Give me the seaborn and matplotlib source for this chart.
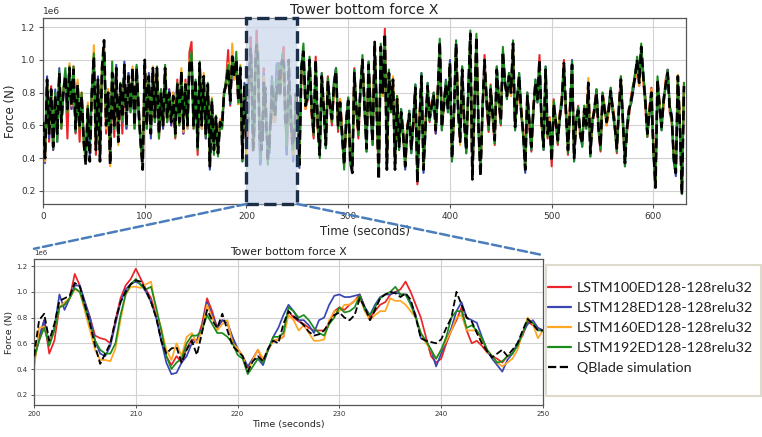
import numpy as np
import pandas as pd
import matplotlib
matplotlib.use("Agg")
import matplotlib.pyplot as plt
import seaborn as sns
from matplotlib.patches import ConnectionPatch, Rectangle
from matplotlib.lines import Line2D

# ---------------- data (force in MN, scaled to N when plotted) ----------------
series_names = ["LSTM100ED128-128relu32", "LSTM128ED128-128relu32",
                "LSTM160ED128-128relu32", "LSTM192ED128-128relu32",
                "QBlade simulation"]
series_colors = ["#ec2328", "#3a46b2", "#ffa624", "#1c8c1c", "#000000"]

# zoom window 200-250 s, 0.5 s step
t_fine = np.arange(200.0, 250.01, 0.5)
red_fine = [0.50,0.62,0.78,0.52,0.62,0.88,0.90,0.95,1.14,1.05,
            0.92,0.80,0.66,0.64,0.63,0.60,0.78,0.95,1.05,1.10,
            1.18,1.10,1.02,0.95,0.82,0.62,0.50,0.43,0.50,0.45,
            0.56,0.63,0.62,0.75,0.95,0.85,0.72,0.78,0.76,0.62,
            0.55,0.50,0.40,0.48,0.55,0.46,0.55,0.62,0.63,0.65,
            0.85,0.80,0.77,0.75,0.72,0.70,0.70,0.70,0.76,0.85,
            0.88,0.86,0.90,0.93,0.98,0.88,0.80,0.85,0.90,0.92,
            0.98,1.00,1.02,1.08,1.00,0.90,0.80,0.65,0.50,0.45,
            0.48,0.60,0.70,0.78,0.88,0.70,0.60,0.62,0.58,0.53,
            0.50,0.48,0.45,0.50,0.52,0.60,0.66,0.77,0.74,0.72,
            0.70]
blue_fine = [0.45,0.65,0.78,0.60,0.72,0.98,0.86,0.95,1.05,1.05,
             0.92,0.80,0.62,0.52,0.50,0.58,0.75,0.92,1.02,1.06,
             1.08,1.06,1.00,0.92,0.80,0.62,0.45,0.36,0.37,0.45,
             0.50,0.60,0.62,0.72,0.92,0.82,0.72,0.78,0.76,0.65,
             0.56,0.50,0.42,0.48,0.48,0.43,0.55,0.65,0.72,0.82,
             0.90,0.85,0.78,0.78,0.74,0.68,0.78,0.80,0.90,0.97,
             0.98,0.96,0.96,0.97,0.98,0.88,0.82,0.90,0.96,0.98,
             0.98,1.00,0.98,0.98,0.92,0.82,0.64,0.62,0.55,0.42,
             0.52,0.62,0.72,0.85,0.92,0.80,0.78,0.76,0.65,0.55,
             0.48,0.43,0.38,0.47,0.52,0.60,0.68,0.75,0.78,0.72,
             0.70]
orange_fine = [0.40,0.72,0.73,0.60,0.70,0.88,0.92,0.95,1.02,1.00,
               0.85,0.70,0.55,0.47,0.47,0.46,0.56,0.78,0.98,1.04,
               1.04,1.03,1.06,1.08,0.85,0.72,0.55,0.47,0.60,0.50,
               0.65,0.68,0.60,0.70,0.90,0.80,0.70,0.75,0.78,0.60,
               0.56,0.50,0.38,0.47,0.55,0.48,0.55,0.62,0.63,0.65,
               0.82,0.78,0.70,0.74,0.68,0.62,0.62,0.63,0.78,0.85,
               0.85,0.90,0.90,0.93,0.96,0.85,0.78,0.82,0.85,0.85,
               0.95,0.93,0.93,0.90,0.85,0.80,0.68,0.60,0.55,0.48,
               0.55,0.62,0.70,0.80,0.82,0.70,0.70,0.70,0.62,0.55,
               0.50,0.45,0.42,0.45,0.48,0.55,0.68,0.80,0.75,0.64,
               0.70]
green_fine = [0.48,0.62,0.72,0.58,0.70,0.88,0.90,0.95,1.03,1.00,
              0.88,0.75,0.62,0.55,0.52,0.52,0.60,0.82,0.98,1.06,
              1.10,1.05,1.02,1.04,0.88,0.70,0.50,0.40,0.45,0.48,
              0.60,0.66,0.66,0.70,0.82,0.75,0.68,0.68,0.65,0.60,
              0.51,0.48,0.36,0.42,0.48,0.45,0.55,0.65,0.65,0.68,
              0.88,0.85,0.80,0.82,0.78,0.72,0.68,0.66,0.75,0.80,
              0.88,0.84,0.85,0.88,0.97,0.86,0.82,0.88,0.95,0.98,
              1.00,1.04,0.98,0.98,0.90,0.80,0.68,0.62,0.55,0.48,
              0.55,0.65,0.80,0.85,0.85,0.72,0.74,0.70,0.64,0.55,
              0.50,0.45,0.46,0.50,0.52,0.58,0.68,0.78,0.76,0.70,
              0.70]
qblade_fine = [0.50,0.78,0.83,0.62,0.75,0.93,0.95,0.97,1.07,1.04,
               0.90,0.75,0.58,0.44,0.52,0.60,0.78,0.92,1.00,1.06,
               1.09,1.08,1.01,0.92,0.80,0.62,0.52,0.56,0.57,0.45,
               0.55,0.62,0.51,0.68,0.86,0.78,0.72,0.83,0.70,0.58,
               0.54,0.50,0.38,0.46,0.50,0.46,0.56,0.62,0.60,0.75,
               0.85,0.81,0.78,0.74,0.69,0.66,0.67,0.70,0.76,0.82,
               0.84,0.80,0.78,0.82,0.95,0.88,0.78,0.86,0.95,0.98,
               1.00,0.99,0.96,0.99,0.94,0.80,0.64,0.62,0.61,0.60,
               0.63,0.72,0.80,1.00,0.90,0.80,0.77,0.68,0.60,0.54,
               0.49,0.52,0.55,0.50,0.55,0.60,0.70,0.79,0.75,0.70,
               0.70]

# full record, 0-198 s (2 s step)
t_a = np.arange(0.0, 199.0, 2.0)
red_a = [0.60,0.42,0.85,0.50,0.84,0.45,0.80,0.52,0.90,0.58,
         0.82,0.88,0.52,0.93,0.70,0.96,0.55,0.82,0.50,0.80,
         0.52,0.40,0.72,0.50,0.78,0.98,0.42,0.85,0.45,0.92,
         1.05,0.55,0.82,0.40,0.90,0.53,0.93,0.52,0.82,0.55,
         0.95,0.58,0.92,0.68,0.93,0.62,0.93,0.66,0.52,0.34,
         0.98,0.62,0.88,0.58,0.92,0.62,0.93,0.52,0.82,0.58,
         0.92,0.62,0.82,0.60,0.80,0.52,0.88,0.60,0.90,0.55,
         0.88,0.62,1.05,1.11,0.58,0.85,0.42,0.96,0.62,0.88,
         0.52,0.82,0.38,0.72,0.48,0.62,0.45,0.60,0.62,0.78,
         0.88,1.06,0.72,1.00,0.92,0.98,0.78,0.92,0.42,0.82]
blue_a = [0.60,0.37,0.90,0.52,0.80,0.45,0.82,0.50,0.95,0.60,
          0.78,0.92,0.72,0.96,0.70,0.92,0.56,0.86,0.62,0.76,
          0.52,0.38,0.68,0.42,0.82,0.95,0.48,0.90,0.40,0.92,
          1.08,0.62,0.78,0.40,0.90,0.58,0.97,0.52,0.83,0.62,
          0.99,0.58,0.92,0.72,0.92,0.58,0.96,0.72,0.48,0.35,
          0.97,0.58,0.92,0.52,0.93,0.62,0.92,0.56,0.82,0.58,
          0.93,0.62,0.82,0.60,0.80,0.57,0.84,0.64,0.92,0.55,
          0.86,0.58,0.96,1.02,0.62,0.86,0.46,0.96,0.58,0.88,
          0.52,0.84,0.33,0.73,0.46,0.64,0.44,0.60,0.58,0.82,
          0.83,0.96,0.73,1.00,0.88,0.98,0.73,0.93,0.38,0.86]
orange_a = [0.58,0.38,0.86,0.55,0.78,0.48,0.76,0.56,0.90,0.60,
            0.82,0.88,0.68,0.98,0.72,0.92,0.60,0.88,0.58,0.80,
            0.48,0.38,0.74,0.56,0.78,1.09,0.46,0.86,0.40,0.98,
            1.08,0.58,0.82,0.35,0.93,0.62,0.93,0.48,0.86,0.63,
            0.95,0.62,0.88,0.72,0.96,0.62,0.93,0.68,0.50,0.35,
            1.00,0.60,0.88,0.55,0.96,0.66,0.94,0.57,0.78,0.62,
            0.96,0.63,0.78,0.64,0.80,0.57,0.83,0.62,0.95,0.56,
            0.86,0.58,1.00,1.02,0.62,0.86,0.48,0.96,0.58,0.92,
            0.57,0.83,0.36,0.77,0.47,0.66,0.42,0.64,0.62,0.82,
            0.83,0.98,0.77,1.10,0.88,1.00,0.73,0.97,0.42,0.83]
green_a = [0.64,0.42,0.86,0.57,0.80,0.46,0.80,0.50,0.93,0.58,
           0.82,0.95,0.68,0.96,0.74,0.96,0.56,0.84,0.58,0.80,
           0.52,0.40,0.72,0.50,0.82,1.04,0.50,0.86,0.42,0.96,
           1.05,0.62,0.80,0.40,0.99,0.58,0.93,0.53,0.86,0.63,
           0.96,0.60,0.90,0.68,0.94,0.58,0.97,0.66,0.48,0.36,
           0.98,0.58,0.90,0.56,0.94,0.62,0.96,0.52,0.82,0.60,
           0.97,0.62,0.80,0.63,0.76,0.53,0.86,0.60,0.92,0.60,
           0.85,0.60,0.96,1.05,0.58,0.88,0.45,0.99,0.60,0.90,
           0.53,0.86,0.36,0.76,0.42,0.66,0.41,0.62,0.58,0.80,
           0.88,0.97,0.74,1.02,0.91,1.05,0.74,0.96,0.38,0.84]
qblade_a = [0.62,0.40,0.88,0.55,0.82,0.47,0.78,0.55,0.92,0.62,
            0.80,0.90,0.70,0.95,0.72,0.94,0.58,0.85,0.60,0.78,
            0.50,0.36,0.70,0.38,0.80,1.02,0.45,0.88,0.38,0.95,
            1.12,0.60,0.80,0.36,0.92,0.60,0.95,0.50,0.85,0.65,
            0.97,0.60,0.90,0.70,0.95,0.60,0.95,0.70,0.50,0.33,
            1.00,0.60,0.90,0.55,0.95,0.65,0.95,0.55,0.80,0.60,
            0.95,0.65,0.80,0.62,0.78,0.55,0.85,0.62,0.93,0.58,
            0.85,0.60,0.98,1.00,0.60,0.88,0.47,0.98,0.60,0.90,
            0.55,0.85,0.35,0.75,0.45,0.65,0.43,0.62,0.60,0.80,
            0.85,0.95,0.75,1.02,0.90,1.00,0.75,0.95,0.40,0.85]

# full record, 252-630 s (2 s step)
t_b = np.arange(252.0, 631.0, 2.0)
red_b = [0.40,0.92,1.02,0.70,0.75,0.97,0.66,0.52,1.02,0.58,
         0.45,0.88,0.72,0.52,0.90,0.70,0.60,0.82,0.95,0.56,
         0.76,0.58,0.40,0.60,0.72,0.42,0.35,0.95,0.68,0.52,
         0.80,0.97,0.75,0.50,0.95,0.72,0.55,1.08,0.66,0.30,
         1.05,0.78,1.19,0.36,0.90,0.72,0.85,0.37,0.78,0.50,
         0.65,0.52,0.38,0.60,0.65,0.48,0.60,0.80,0.24,0.65,
         0.88,0.36,0.62,0.82,0.62,0.74,0.80,0.55,0.82,1.08,
         0.62,0.70,0.82,0.72,0.95,0.44,0.66,1.07,0.72,0.52,
         0.92,0.60,0.48,0.78,1.13,0.30,0.72,1.12,0.62,0.32,
         0.68,1.03,0.72,0.56,0.85,0.63,0.48,0.92,0.72,0.60,
         1.02,0.84,0.80,0.88,0.78,1.07,0.62,0.72,0.88,0.66,
         0.58,0.36,0.80,0.60,0.44,0.72,0.84,0.78,1.03,0.60,
         0.50,0.92,0.52,0.65,0.35,0.76,0.60,0.48,0.68,0.78,
         1.00,0.66,0.42,0.72,0.95,0.43,0.60,0.72,0.52,0.52,
         0.67,0.62,0.83,0.46,0.60,0.72,0.82,0.56,0.44,0.80,
         0.72,0.60,0.72,0.78,0.72,0.63,0.43,0.72,0.90,0.60,
         0.40,0.56,0.66,0.78,0.85,0.88,0.97,0.88,1.05,0.87,
         0.72,0.53,0.70,0.83,0.48,0.25,0.85,0.74,0.62,0.72,
         0.88,0.94,0.68,0.62,0.43,0.34,0.87,0.62,0.22,0.86]
blue_b = [0.34,0.97,1.03,0.74,0.76,0.98,0.72,0.58,0.97,0.62,
          0.44,0.92,0.68,0.46,0.85,0.74,0.66,0.87,0.95,0.62,
          0.72,0.52,0.38,0.64,0.77,0.40,0.33,0.90,0.72,0.58,
          0.84,0.98,0.70,0.44,0.99,0.68,0.48,1.09,0.72,0.29,
          1.06,0.82,1.14,0.33,0.94,0.68,0.86,0.37,0.74,0.45,
          0.70,0.57,0.33,0.56,0.69,0.43,0.64,0.85,0.27,0.60,
          0.92,0.31,0.58,0.86,0.63,0.70,0.80,0.55,0.78,1.09,
          0.57,0.74,0.88,0.68,1.00,0.38,0.70,1.08,0.68,0.52,
          0.96,0.64,0.43,0.82,1.14,0.29,0.68,1.12,0.58,0.31,
          0.72,0.98,0.77,0.61,0.80,0.68,0.53,0.96,0.77,0.61,
          1.03,0.88,0.76,0.92,0.82,1.08,0.57,0.77,0.92,0.71,
          0.53,0.31,0.80,0.64,0.45,0.68,0.88,0.74,0.98,0.64,
          0.45,0.96,0.57,0.60,0.40,0.71,0.64,0.53,0.64,0.73,
          0.96,0.70,0.47,0.68,1.00,0.38,0.64,0.71,0.57,0.47,
          0.72,0.58,0.84,0.41,0.64,0.68,0.82,0.60,0.49,0.76,
          0.68,0.64,0.71,0.83,0.68,0.58,0.48,0.68,0.86,0.64,
          0.35,0.60,0.71,0.73,0.80,0.92,0.98,0.84,1.06,0.92,
          0.77,0.57,0.66,0.78,0.43,0.24,0.86,0.70,0.57,0.77,
          0.83,0.94,0.72,0.67,0.38,0.29,0.88,0.58,0.20,0.82]
orange_b = [0.38,0.93,1.03,0.70,0.80,0.98,0.68,0.58,0.98,0.58,
            0.44,0.88,0.72,0.50,0.85,0.70,0.62,0.83,0.91,0.62,
            0.76,0.56,0.38,0.60,0.73,0.40,0.33,0.90,0.68,0.58,
            0.80,0.98,0.74,0.48,0.95,0.72,0.52,1.09,0.68,0.29,
            1.06,0.78,1.14,0.35,0.90,0.72,0.90,0.35,0.78,0.49,
            0.66,0.57,0.37,0.60,0.65,0.47,0.60,0.81,0.27,0.64,
            0.88,0.35,0.62,0.82,0.67,0.74,0.76,0.59,0.82,1.09,
            0.61,0.70,0.83,0.72,0.96,0.42,0.66,1.08,0.72,0.48,
            0.92,0.60,0.47,0.78,1.14,0.29,0.72,1.12,0.62,0.31,
            0.68,0.98,0.77,0.61,0.84,0.64,0.53,0.92,0.73,0.65,
            1.03,0.84,0.80,0.88,0.78,1.08,0.61,0.73,0.88,0.71,
            0.57,0.35,0.76,0.64,0.49,0.72,0.84,0.78,0.98,0.60,
            0.49,0.92,0.57,0.64,0.40,0.75,0.60,0.53,0.68,0.77,
            0.96,0.66,0.47,0.72,0.95,0.42,0.60,0.67,0.57,0.51,
            0.72,0.62,0.89,0.45,0.60,0.72,0.78,0.60,0.49,0.76,
            0.72,0.60,0.67,0.79,0.72,0.62,0.48,0.72,0.86,0.60,
            0.39,0.60,0.67,0.77,0.84,0.88,0.98,0.84,1.06,0.88,
            0.77,0.57,0.70,0.82,0.47,0.24,0.86,0.74,0.61,0.73,
            0.87,0.90,0.72,0.63,0.42,0.33,0.91,0.62,0.20,0.82]
green_b = [0.36,0.97,1.10,0.74,0.76,1.02,0.72,0.54,0.98,0.62,
           0.40,0.92,0.68,0.46,0.89,0.74,0.62,0.87,0.95,0.58,
           0.72,0.52,0.33,0.64,0.77,0.36,0.33,0.94,0.72,0.54,
           0.84,1.03,0.70,0.44,0.99,0.68,0.48,1.09,0.72,0.29,
           1.10,0.82,1.14,0.35,0.94,0.68,0.86,0.35,0.78,0.45,
           0.70,0.53,0.37,0.56,0.69,0.43,0.64,0.85,0.27,0.60,
           0.92,0.35,0.58,0.86,0.63,0.70,0.80,0.59,0.78,1.13,
           0.57,0.74,0.87,0.68,0.98,0.38,0.70,1.12,0.68,0.52,
           0.96,0.64,0.43,0.82,1.18,0.29,0.68,1.16,0.58,0.31,
           0.72,0.98,0.77,0.57,0.84,0.68,0.49,0.96,0.77,0.61,
           1.08,0.88,0.76,0.92,0.82,1.12,0.57,0.77,0.92,0.67,
           0.53,0.35,0.80,0.64,0.45,0.68,0.88,0.74,0.98,0.64,
           0.45,0.96,0.53,0.60,0.40,0.75,0.64,0.49,0.64,0.77,
           0.96,0.70,0.43,0.68,0.99,0.38,0.64,0.71,0.57,0.47,
           0.72,0.58,0.84,0.41,0.64,0.68,0.82,0.60,0.45,0.80,
           0.68,0.64,0.71,0.83,0.68,0.58,0.44,0.68,0.90,0.64,
           0.35,0.60,0.71,0.73,0.84,0.92,1.02,0.88,1.10,0.92,
           0.77,0.53,0.66,0.80,0.43,0.22,0.90,0.70,0.57,0.77,
           0.83,0.94,0.72,0.63,0.38,0.31,0.88,0.58,0.18,0.86]
qblade_b = [0.36,0.95,1.05,0.72,0.78,1.00,0.70,0.56,1.00,0.60,
            0.42,0.90,0.70,0.48,0.87,0.72,0.64,0.85,0.93,0.60,
            0.74,0.54,0.36,0.62,0.75,0.38,0.31,0.92,0.70,0.56,
            0.82,1.00,0.72,0.46,0.97,0.70,0.50,1.11,0.70,0.27,
            1.08,0.80,1.16,0.33,0.92,0.70,0.88,0.33,0.76,0.47,
            0.68,0.55,0.35,0.58,0.67,0.45,0.62,0.83,0.25,0.62,
            0.90,0.33,0.60,0.84,0.65,0.72,0.78,0.57,0.80,1.11,
            0.59,0.72,0.85,0.70,0.98,0.40,0.68,1.10,0.70,0.50,
            0.94,0.62,0.45,0.80,1.16,0.27,0.70,1.14,0.60,0.29,
            0.70,1.00,0.75,0.59,0.82,0.66,0.51,0.94,0.75,0.63,
            1.05,0.86,0.78,0.90,0.80,1.10,0.59,0.75,0.90,0.69,
            0.55,0.33,0.78,0.62,0.47,0.70,0.86,0.76,1.00,0.62,
            0.47,0.94,0.55,0.62,0.38,0.73,0.62,0.51,0.66,0.75,
            0.98,0.68,0.45,0.70,0.97,0.40,0.62,0.69,0.55,0.49,
            0.70,0.60,0.86,0.43,0.62,0.70,0.80,0.58,0.47,0.78,
            0.70,0.62,0.69,0.81,0.70,0.60,0.46,0.70,0.88,0.62,
            0.37,0.58,0.69,0.75,0.82,0.90,1.00,0.86,1.08,0.90,
            0.75,0.55,0.68,0.80,0.45,0.22,0.88,0.72,0.59,0.75,
            0.85,0.92,0.70,0.65,0.40,0.31,0.90,0.60,0.18,0.84]

UNIT = 1e6  # MN -> N

fine_vals = [red_fine, blue_fine, orange_fine, green_fine, qblade_fine]
a_vals = [red_a, blue_a, orange_a, green_a, qblade_a]
b_vals = [red_b, blue_b, orange_b, green_b, qblade_b]

frames_top, frames_bot = [], []
for name, fa, ff, fb in zip(series_names, a_vals, fine_vals, b_vals):
    t_all = np.concatenate([t_a, t_fine, t_b])
    v_all = np.concatenate([fa, ff, fb]) * UNIT
    frames_top.append(pd.DataFrame({"Time": t_all, "Force": v_all, "series": name}))
    frames_bot.append(pd.DataFrame({"Time": t_fine, "Force": np.array(ff) * UNIT, "series": name}))
df_top = pd.concat(frames_top, ignore_index=True)
df_bot = pd.concat(frames_bot, ignore_index=True)

# ---------------- style ----------------
sns.set_theme(style="ticks", rc={"axes.grid": True, "grid.color": "#d2d2d2",
                                 "grid.linewidth": 0.8, "axes.edgecolor": "#555555",
                                 "axes.linewidth": 0.9, "xtick.color": "#555555",
                                 "ytick.color": "#555555", "text.color": "#222222",
                                 "xtick.labelcolor": "#333333", "ytick.labelcolor": "#333333"})
plt.rcParams["font.family"] = ["DejaVu Sans"]

W, H = 762, 437
fig = plt.figure(figsize=(W / 100, H / 100), dpi=100)

ax_top = fig.add_axes([43 / W, 1 - 204 / H, (686 - 43) / W, (204 - 18) / H])
ax_bot = fig.add_axes([34 / W, 1 - 405 / H, (543 - 34) / W, (405 - 259) / H])

YLIM = (0.12 * UNIT, 1.256 * UNIT)

def draw(ax, df, lw_col, lw_black):
    for name, col in zip(series_names, series_colors):
        sub = df[df["series"] == name]
        is_q = name == "QBlade simulation"
        sns.lineplot(data=sub, x="Time", y="Force", ax=ax, color=col,
                     linewidth=lw_black if is_q else lw_col,
                     linestyle="--" if is_q else "-",
                     estimator=None, sort=False, legend=False,
                     zorder=3 if is_q else 2)

draw(ax_top, df_top, 1.5, 1.9)
draw(ax_bot, df_bot, 1.25, 1.3)

# top panel
ax_top.set_xlim(0, 632)
ax_top.set_ylim(*YLIM)
ax_top.set_xticks([0, 100, 200, 300, 400, 500, 600])
ax_top.set_yticks(np.array([0.2, 0.4, 0.6, 0.8, 1.0, 1.2]) * UNIT)
ax_top.tick_params(labelsize=6.5, length=3, width=0.8, pad=2.5)
ax_top.yaxis.get_offset_text().set_fontsize(6.5)
ax_top.set_title("Tower bottom force X", fontsize=10, pad=3)
ax_top.set_xlabel("Time (seconds)", fontsize=8.5, labelpad=3)
ax_top.set_ylabel("Force (N)", fontsize=8.5, labelpad=3)

ax_top.axvspan(200, 250, facecolor=(0.80, 0.85, 0.93, 0.75), edgecolor="#1d2f48",
               linestyle="--", linewidth=2.4, zorder=6, clip_on=False)

# bottom panel
ax_bot.set_xlim(200, 250)
ax_bot.set_ylim(*YLIM)
ax_bot.set_xticks([200, 210, 220, 230, 240, 250])
ax_bot.set_yticks(np.array([0.2, 0.4, 0.6, 0.8, 1.0, 1.2]) * UNIT)
ax_bot.tick_params(labelsize=5, length=2.5, width=0.7, pad=2)
ax_bot.yaxis.get_offset_text().set_fontsize(5)
ax_bot.set_title("Tower bottom force X", fontsize=7.8, pad=3)
ax_bot.set_xlabel("Time (seconds)", fontsize=6.8, labelpad=2)
ax_bot.set_ylabel("Force (N)", fontsize=6.8, labelpad=2)

# zoom connector lines
for xa, xyb in [(200, (0.0, 1.07)), (250, (0.995, 1.03))]:
    con = ConnectionPatch(xyA=(xa, YLIM[0]), coordsA=ax_top.transData,
                          xyB=xyb, coordsB=ax_bot.transAxes,
                          color="#4a7ebb", linestyle="--", linewidth=1.8)
    fig.add_artist(con)

# legend
handles = [Line2D([], [], color=c, linewidth=1.6,
                  linestyle="--" if n == "QBlade simulation" else "-")
           for n, c in zip(series_names, series_colors)]
fig.legend(handles, series_names, loc="upper left",
           bbox_to_anchor=(548 / W, 1 - 282 / H), frameon=False,
           prop={"family": "Lato", "size": 10.3}, handlelength=1.6,
           handletextpad=0.4, labelspacing=0.56, borderpad=0, borderaxespad=0)
fig.add_artist(Rectangle((546 / W, 1 - 396 / H), (761 - 546) / W, (396 - 265) / H,
                         transform=fig.transFigure, fill=False,
                         edgecolor="#dedbcd", linewidth=1.5))

fig.savefig("out.png", dpi=100)
